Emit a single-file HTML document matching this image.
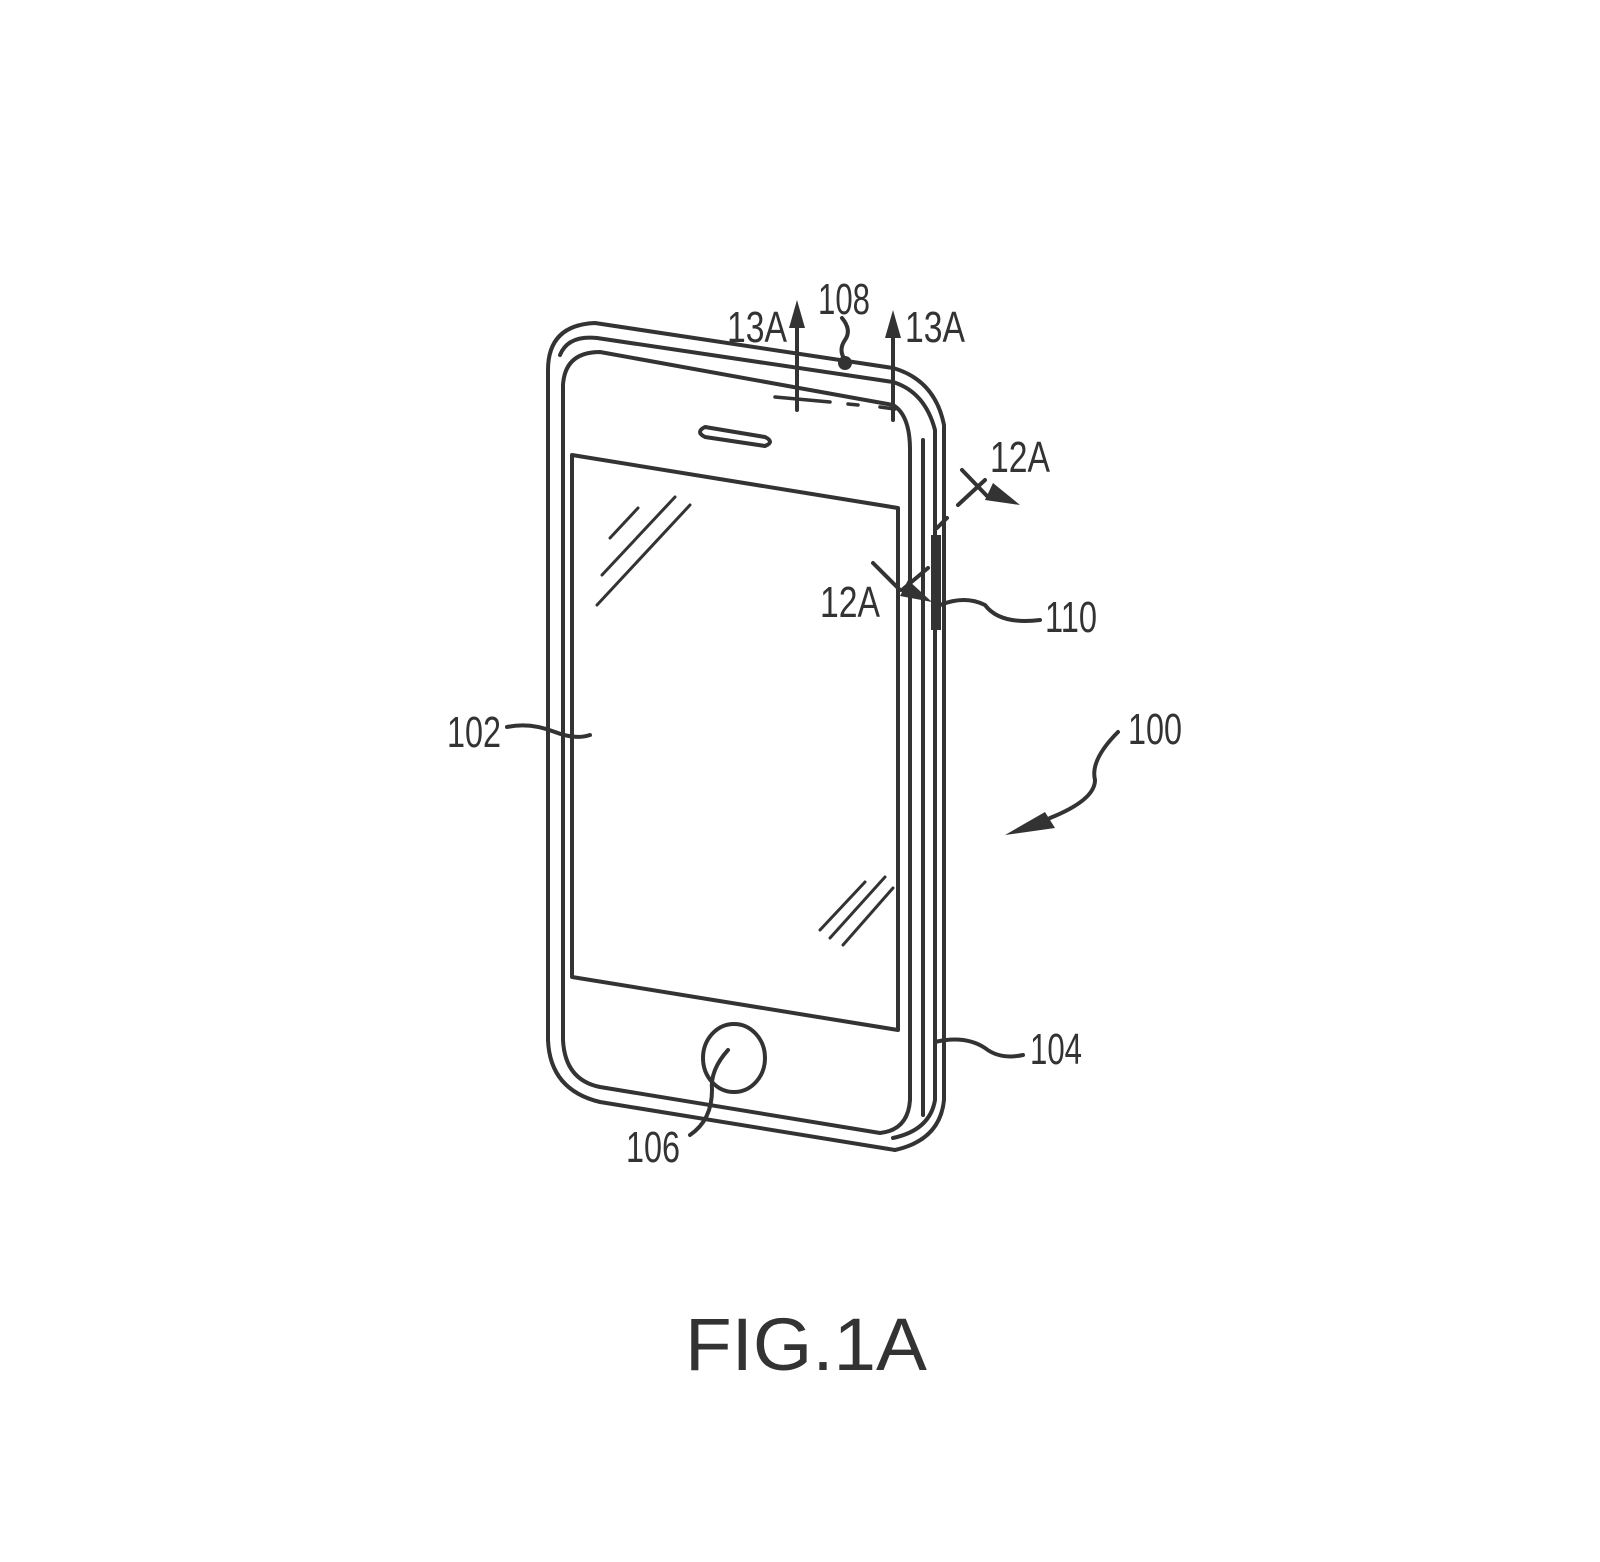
<!DOCTYPE html>
<html><head><meta charset="utf-8"><style>html,body{margin:0;padding:0;background:#fff}svg{display:block}</style></head>
<body>
<svg width="1600" height="1562" viewBox="0 0 1600 1562" xmlns="http://www.w3.org/2000/svg">
<g fill="none" stroke="#333" stroke-width="4" stroke-linecap="round" stroke-linejoin="round">
<path d="M548,1040 L548,370 Q548,325 595,323 L893,368 Q935,380 944,425 L944,1100 Q940,1140 895,1150 L600,1102 Q550,1090 548,1040 Z"/>
<path d="M560,355 Q568,335 597,338 L893,382 Q925,392 935,430 L935,1100 Q930,1130 893,1138"/>
<path d="M923,440 L923,1115"/>
<path d="M563,1040 L563,385 Q565,352 600,352 L893,405 Q910,415 910,450 L910,1100 Q908,1130 880,1133 L600,1087 Q565,1080 563,1040 Z"/>
<path d="M572,455 L898,508 L898,1030 L572,977 Z"/>
<path d="M705,427 L765,437 Q775,442 765,446 L705,437 Q695,432 705,427 Z"/>
<ellipse cx="734" cy="1058" rx="31" ry="34"/>
<path d="M610,538 L638,508 M602,575 L675,497 M597,605 L690,505 M820,930 L865,882 M830,938 L885,877 M843,945 L893,888" stroke-width="3"/>
<path d="M775,397 L830,402 M848,404 L858,405 M880,407 L895,409" stroke-width="3.5"/>
<path d="M797,410 L797,325 M893,420 L893,330"/>
<path d="M937,528 L947,518 M958,505 L985,480 M962,470 L988,497"/>
<path d="M902,590 L928,568 M873,563 L900,590"/>
<path d="M845,360 Q838,350 845,340 Q852,330 842,318"/>
<path d="M940,605 Q965,595 985,605 Q1000,625 1040,620"/>
<path d="M507,727 Q530,722 555,732 Q575,740 590,735"/>
<path d="M1118,732 Q1090,760 1095,780 Q1095,800 1050,818"/>
<path d="M935,1042 Q965,1035 985,1048 Q1000,1060 1023,1055"/>
<path d="M728,1050 Q710,1070 712,1090 Q712,1120 690,1135"/>
</g>
<g fill="#333" stroke="none">
<rect x="931" y="535" width="10" height="95"/>
<circle cx="845" cy="363" r="7"/>
<path d="M797,300 L789,328 L805,328 Z"/>
<path d="M893,310 L885,338 L901,338 Z"/>
<path d="M1020,505 L993,483 L985,500 Z"/>
<path d="M932,602 L908,580 L900,596 Z"/>
<path d="M1005,835 L1045,812 L1055,828 Z"/>
</g>
<g fill="#333" font-family="Liberation Sans, sans-serif" font-size="44">
<text x="727" y="342" textLength="60" lengthAdjust="spacingAndGlyphs">13A</text>
<text x="818" y="314" textLength="52" lengthAdjust="spacingAndGlyphs">108</text>
<text x="905" y="342" textLength="60" lengthAdjust="spacingAndGlyphs">13A</text>
<text x="990" y="472" textLength="60" lengthAdjust="spacingAndGlyphs">12A</text>
<text x="820" y="617" textLength="60" lengthAdjust="spacingAndGlyphs">12A</text>
<text x="1045" y="632" textLength="52" lengthAdjust="spacingAndGlyphs">110</text>
<text x="1128" y="744" textLength="54" lengthAdjust="spacingAndGlyphs">100</text>
<text x="447" y="747" textLength="54" lengthAdjust="spacingAndGlyphs">102</text>
<text x="1030" y="1064" textLength="52" lengthAdjust="spacingAndGlyphs">104</text>
<text x="626" y="1162" textLength="54" lengthAdjust="spacingAndGlyphs">106</text>
<text x="685" y="1370" font-size="74" textLength="242" lengthAdjust="spacingAndGlyphs">FIG.1A</text>
</g>
</svg>
</body></html>
